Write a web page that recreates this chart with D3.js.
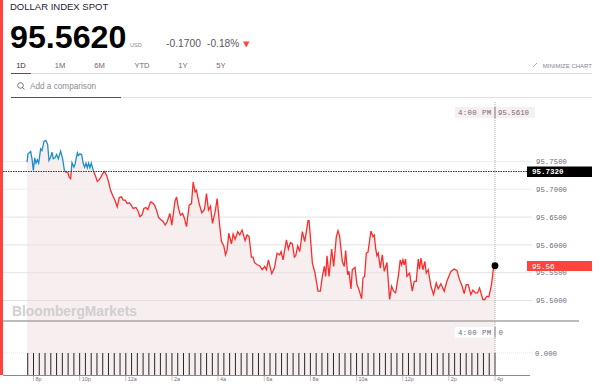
<!DOCTYPE html>
<html><head><meta charset="utf-8">
<script src="https://cdn.jsdelivr.net/npm/d3@7"></script>
<style>html,body{margin:0;background:#fff}svg{display:block}</style>
</head><body><svg id="c" width="600" height="388"></svg>
<script>
const instrument="DOLLAR INDEX SPOT", lastPrice="95.5620", currency="USD", change="-0.1700", changePct="-0.18%";
const ranges=["1D","1M","6M","YTD","1Y","5Y"];
const rangeX=[21,60,99.5,142,183,221];
const previousClose=95.732, lastValue=95.5625;
const yTicks=[95.75,95.70,95.65,95.60,95.55,95.50];
const timeTickLabels=["8p","10p","12a","2a","4a","6a","8a","10a","12p","2p","4p"];
const timeTickHours=[0,2,4,6,8,10,12,14,16,18,20];
// hours after 8 pm
const hours=[-0.281,-0.238,-0.122,-0.065,-0.007,0.051,0.108,0.166,0.224,0.31,0.368,0.455,0.541,0.613,0.671,0.743,0.801,0.859,0.931,1.003,1.075,1.176,1.263,1.335,1.393,1.479,1.551,1.609,1.667,1.753,1.811,1.898,1.941,2.013,2.085,2.158,2.215,2.273,2.331,2.388,2.446,2.504,2.59,2.677,2.764,2.85,2.922,2.994,3.081,3.168,3.254,3.341,3.427,3.528,3.629,3.716,3.817,3.889,3.976,4.062,4.149,4.235,4.322,4.437,4.524,4.611,4.697,4.784,4.87,4.957,5.072,5.159,5.246,5.332,5.419,5.534,5.621,5.707,5.794,
5.909,5.996,6.125,6.198,6.284,6.371,6.457,6.544,6.631,6.746,6.847,6.919,7.006,7.063,7.179,7.294,7.41,7.496,7.583,7.669,7.756,7.871,7.958,8.073,8.146,8.247,8.319,8.391,8.463,8.579,8.651,8.737,8.853,8.939,9.04,9.17,9.257,9.343,9.444,9.517,9.574,9.69,9.805,9.906,10.022,10.094,10.18,10.325,10.44,10.556,10.671,10.729,10.815,10.96,11.046,11.133,11.219,11.306,11.363,11.45,11.537,11.652,11.753,11.897,11.941,11.998,12.085,12.2,12.33,12.431,12.518,12.605,12.662,12.72,12.807,12.922,13.009,13.124,13.196,
13.268,13.383,13.47,13.528,13.614,13.672,13.759,13.816,13.932,14.018,14.105,14.22,14.278,14.35,14.422,14.495,14.624,14.711,14.769,14.826,14.884,14.942,15.028,15.115,15.202,15.317,15.433,15.519,15.606,15.692,15.808,15.894,15.952,16.01,16.067,16.125,16.183,16.298,16.414,16.5,16.587,16.674,16.731,16.789,16.876,16.962,17.02,17.106,17.222,17.337,17.453,17.539,17.655,17.799,17.915,18.088,18.232,18.347,18.463,18.578,18.665,18.751,18.838,18.953,19.04,19.155,19.242,19.329,19.473,19.559,19.646,19.733,19.848,19.935,20];
const prices=[95.7488,95.7637,95.7679,95.7548,95.734,95.7566,95.747,95.753,95.747,95.7726,95.7696,95.7863,95.7875,95.7804,95.7518,95.7577,95.7667,95.7548,95.7566,95.7625,95.7548,95.7685,95.7548,95.7351,95.731,95.731,95.722,95.7191,95.7476,95.7399,95.747,95.7655,95.7607,95.7637,95.7625,95.7458,95.7399,95.747,95.7387,95.747,95.7387,95.747,95.734,95.725,95.7143,95.7173,95.722,95.728,95.7322,95.725,95.7131,95.6982,95.6893,95.6804,95.6685,95.6852,95.6864,95.6804,95.6804,95.6744,95.6756,95.6715,95.6655,95.6673,95.6614,95.6507,95.6536,95.6655,95.6673,95.6637,95.6774,95.6756,95.6715,95.6625,95.6495,95.6447,95.6417,95.6358,95.6417,
95.6566,95.6357,95.6774,95.6863,95.6655,95.6536,95.6566,95.6476,95.6327,95.6714,95.6744,95.7131,95.6952,95.6982,95.6744,95.6577,95.6637,95.6922,95.6625,95.6696,95.6387,95.6595,95.6833,95.6327,95.606,95.5982,95.5822,95.5911,95.6209,95.6018,95.6197,95.6101,95.6238,95.6179,95.6268,95.6078,95.6179,95.6149,95.578,95.578,95.5685,95.5643,95.5625,95.5554,95.5613,95.5554,95.5732,95.5483,95.5584,95.5851,95.5822,95.5881,95.5732,95.6089,95.5923,95.6042,95.6018,95.578,95.5804,95.5982,95.5881,95.6238,95.606,95.6435,95.6435,95.6149,95.5673,95.5495,95.5167,95.5167,95.5435,95.5613,95.5435,95.5804,95.5435,95.5923,95.5613,95.6149,95.6256,
95.6149,95.5702,95.5613,95.5899,95.5464,95.5524,95.5208,95.5553,95.5595,95.5286,95.5196,95.503,95.5405,95.5434,95.5851,95.5869,95.625,95.6149,95.6178,95.594,95.5803,95.5851,95.5583,95.5821,95.5524,95.5684,95.5018,95.5256,95.5167,95.5137,95.5434,95.5732,95.5643,95.5732,95.5643,95.5744,95.5434,95.5494,95.5167,95.5345,95.5345,95.5744,95.5565,95.5762,95.5553,95.5702,95.5494,95.5553,95.5256,95.5107,95.5315,95.5208,95.5303,95.5167,95.5345,95.5524,95.5565,95.5542,95.5375,95.5256,95.5125,95.5286,95.5286,95.5107,95.5185,95.5137,95.5137,95.5226,95.5018,95.5018,95.5077,95.5066,95.5286,95.5583,95.5625];
const volumeQuarterHours=d3.range(-1,81);

const data=hours.map((h,i)=>({h,v:prices[i]}));
const svg=d3.select("#c");
const x=d3.scaleLinear().domain([0,20]).range([33.5,495]);
const y=d3.scaleLinear().domain([95.5,95.75]).range([300.5,161.5]);
const vy=d3.scaleLinear().domain([0,1]).range([375,353]);
const RED="#ff433d", GREY="#6f6a78", MONO="'Liberation Mono',monospace", SANS="'Liberation Sans',Arial,sans-serif";
const txt=(s,tx,ty,o={})=>svg.append("text").attr("x",tx).attr("y",ty).text(s)
  .attr("font-family",o.f||SANS).attr("font-size",o.s||8).attr("fill",o.c||GREY)
  .attr("font-weight",o.w||"normal").attr("text-anchor",o.a||"start").attr("letter-spacing",o.l||0);
const line=(a,b,c,d,col,w,dash)=>svg.append("line").attr("x1",a).attr("y1",b).attr("x2",c).attr("y2",d)
  .attr("stroke",col).attr("stroke-width",w||1).attr("stroke-dasharray",dash||null);

// header
svg.append("rect").attr("x",0).attr("y",0).attr("width",3).attr("height",375).attr("fill",RED);
txt(instrument,10,9.5,{s:9.5,c:"#2a2030"});
txt(lastPrice,10,48,{s:32.2,w:"bold",c:"#000"});
txt(currency,130,47,{s:5.5,c:"#8a7f88"});
txt(change,166,47,{s:10.3,c:"#5d5664"});
txt(changePct,207,47,{s:10.2,c:"#5d5664"});
svg.append("path").attr("d","M243,41.5h6.5l-3.25,6z").attr("fill",RED);
ranges.forEach((r,i)=>txt(r,rangeX[i],67.5,{s:7.6,a:"middle",c:i==0?"#4a1f2c":"#7b6470"}));
line(11,73.5,592,73.5,"#d8d8d8",1); line(11,73.5,31,73.5,"#555",1);
line(11,97.5,592,97.5,"#e0e0e0",1); line(11,97.5,121,97.5,"#555",1);
svg.append("circle").attr("cx",20.5).attr("cy",85.5).attr("r",2.8).attr("fill","none").attr("stroke","#555").attr("stroke-width",.8);
line(22.5,87.5,24.5,89.5,"#555",.8);
txt("Add a comparison",30,89,{s:8.2,c:"#8b8b93"});
txt("MINIMIZE CHART",592,67.5,{s:6,a:"end",c:"#8b8290"});
line(533,67,537,63,"#9a9199",.8);

// area fill, including the volume panel
svg.append("path").datum(data).attr("fill","#f6eeef")
  .attr("d",d3.area().x(d=>x(d.h)).y0(375).y1(d=>y(d.v)));

// grid
yTicks.forEach(t=>line(3,y(t),532,y(t),t>95.68?"#efefef":"#e4e2e4",1));
line(3,vy(1),533,vy(1),"#dddddd",.8,"1 1");
line(3,321,579,321,"#a9a5a7",1.4);

// volume bars
svg.selectAll(".v").data(volumeQuarterHours).enter().append("line")
  .attr("x1",d=>x(d/4)).attr("x2",d=>x(d/4)).attr("y1",vy(0)).attr("y2",vy(1))
  .attr("stroke","#111").attr("stroke-width",.9);

// axis
line(3,375.5,530,375.5,"#8a8a8a",1);
timeTickHours.forEach((h,i)=>{
  line(x(h),376,x(h),381,"#b5b5b5",.8);
  txt(timeTickLabels[i],x(h)+2,381,{s:5.4,c:"#77707a"});
});

// watermark
txt("BloombergMarkets",12,315.5,{s:13.8,w:"bold",c:"#d0cfcf"});

// y labels
yTicks.forEach(t=>txt(t.toFixed(4),536,y(t)+2.6,{f:MONO,s:7.3,l:.05}));
txt("0.000",535,355.5,{f:MONO,s:7.3});

// price line split at previous close
const defs=svg.append("defs");
defs.append("clipPath").attr("id","above").append("rect").attr("x",0).attr("y",0).attr("width",600).attr("height",y(previousClose));
defs.append("clipPath").attr("id","below").append("rect").attr("x",0).attr("y",y(previousClose)).attr("width",600).attr("height",300);
const lg=d3.line().x(d=>x(d.h)).y(d=>y(d.v));
svg.append("path").datum(data).attr("d",lg).attr("fill","none").attr("stroke","#1f8fc6").attr("stroke-width",1.3).attr("clip-path","url(#above)");
svg.append("path").datum(data).attr("d",lg).attr("fill","none").attr("stroke","#ff2b2b").attr("stroke-width",1.3).attr("clip-path","url(#below)");

// crosshair & baseline
line(x(20),102,x(20),375,"#aaa",1,"1 1");
line(3,y(previousClose),527,y(previousClose),"#333",1,"1.5 1");

// labels at crosshair
svg.append("rect").attr("x",455).attr("y",107).attr("width",80).attr("height",11).attr("fill","#f8efef");
line(495,107,495,118,"#999",1.4);
txt("4:00 PM",458,115,{f:MONO,s:7.3,l:.4});
txt("95.5610",498,115,{f:MONO,s:7.3,l:.05});
svg.append("rect").attr("x",455).attr("y",327).attr("width",52).attr("height",10.5).attr("fill","#fff");
line(495,327,495,337.5,"#999",1.4);
txt("4:00 PM",458,335,{f:MONO,s:7.3,l:.4});
txt("0",498.5,335,{f:MONO,s:7.3});

svg.append("rect").attr("x",527).attr("y",y(previousClose)-5).attr("width",65).attr("height",10.5).attr("fill","#000");
txt(previousClose.toFixed(4),532,y(previousClose)+2.7,{f:MONO,s:7.5,c:"#fff",w:"bold"});
svg.append("rect").attr("x",527).attr("y",261).attr("width",65).attr("height",10).attr("fill",RED);
txt(lastValue.toFixed(2),532,268.7,{f:MONO,s:7.5,c:"#fff"});
svg.append("circle").attr("cx",x(20)).attr("cy",y(lastValue)).attr("r",3.4).attr("fill","#000");
</script></body></html>
